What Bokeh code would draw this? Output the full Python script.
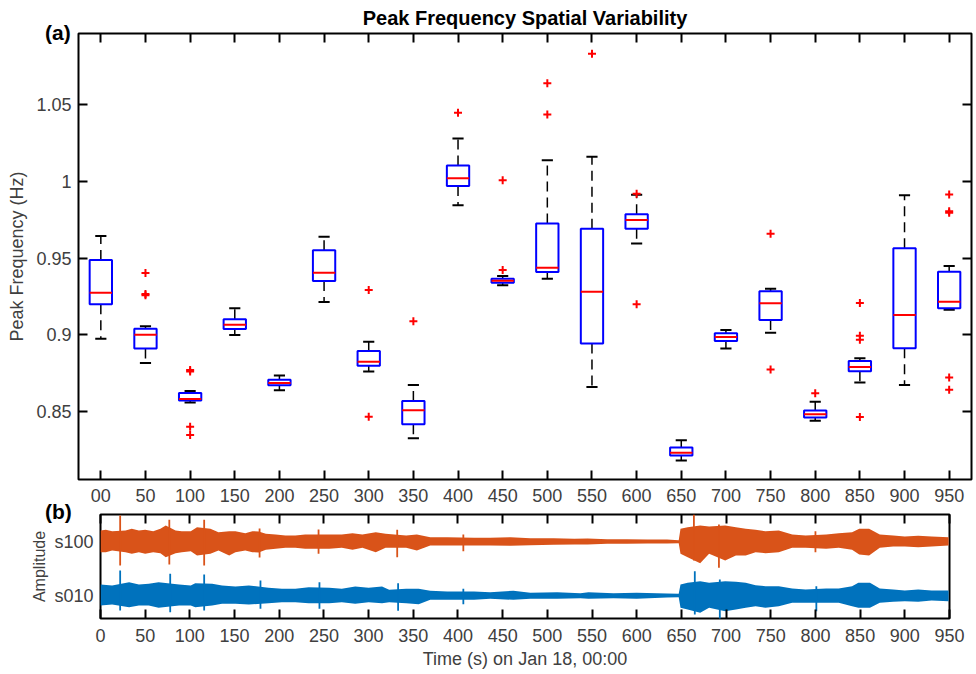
from bokeh.plotting import figure
from bokeh.models import (FactorRange, Range1d, FixedTicker, CategoricalAxis, LinearAxis,
                          ColumnDataSource, CustomJSTickFormatter, Div)
from bokeh.transform import dodge
from bokeh.layouts import column
from bokeh.embed import file_html
from bokeh.resources import INLINE

# ---------------- data: panel (a) box plots ----------------
cats = ["00", "50", "100", "150", "200", "250", "300", "350", "400", "450",
        "500", "550", "600", "650", "700", "750", "800", "850", "900", "950"]
whisk_lo = [0.8976, 0.8818, 0.8560, 0.9000, 0.8641, 0.9214, 0.8762, 0.8329, 0.9844, 0.9323,
            0.9366, 0.8662, 0.9595, 0.8184, 0.8911, 0.9015, 0.8442, 0.8690, 0.8675, 0.9164]
q1 = [0.9200, 0.8911, 0.8573, 0.9039, 0.8673, 0.9350, 0.8799, 0.8420, 0.9968, 0.9340,
      0.9409, 0.8944, 0.9690, 0.8216, 0.8961, 0.9097, 0.8463, 0.8764, 0.8914, 0.9173]
med = [0.9275, 0.9002, 0.8584, 0.9067, 0.8688, 0.9405, 0.8825, 0.8511, 1.0019, 0.9353,
       0.9437, 0.9281, 0.9747, 0.8234, 0.8987, 0.9206, 0.8485, 0.8792, 0.9130, 0.9216]
q3 = [0.9487, 0.9041, 0.8623, 0.9102, 0.8708, 0.9550, 0.8896, 0.8571, 1.0102, 0.9366,
      0.9725, 0.9690, 0.9784, 0.8268, 0.9011, 0.9284, 0.8509, 0.8831, 0.9563, 0.9411]
whisk_hi = [0.9643, 0.9056, 0.8636, 0.9173, 0.8736, 0.9638, 0.8955, 0.8675, 1.0277, 0.9383,
            1.0136, 1.0158, 0.9912, 0.8316, 0.9032, 0.9301, 0.8565, 0.8849, 0.9909, 0.9448]
out_cat = ["50", "50", "50", "100", "100", "100", "100", "300", "300", "350", "400",
           "450", "450", "500", "500", "550", "600", "600", "750", "750", "800",
           "850", "850", "850", "850", "950", "950", "950", "950", "950"]
out_val = [0.9403, 0.9266, 0.9258, 0.8772, 0.8762, 0.8403, 0.8349, 0.9292, 0.8468, 0.9089, 1.0444,
           1.0005, 0.9422, 1.0636, 1.0433, 1.0829, 0.9918, 0.9200, 0.9658, 0.8775, 0.8621,
           0.9208, 0.8995, 0.8968, 0.8466, 0.9913, 0.9805, 0.9795, 0.8723, 0.8643]
freq_ticks = [0.85, 0.9, 0.95, 1.0, 1.05]
freq_tick_labels = ["0.85", "0.9", "0.95", "1", "1.05"]

# ---------------- data: panel (b) waveform envelopes ----------------
trace_names = ["s100", "s010"]
trace_offsets = [54, 0]
time_ticks = list(range(0, 951, 50))

t_s100 = [0, 6, 13, 28, 35, 43, 50, 59, 67, 73, 84, 91, 101, 108, 123, 132, 144, 151, 162, 170,
          177, 185, 196, 207, 218, 229, 256, 270, 282, 293, 308, 319, 342, 354, 369, 388, 418, 436, 459, 481,
          507, 530, 545, 567, 589, 612, 634, 647, 649, 657, 671, 681, 699, 711, 722, 733, 744, 759, 774, 789,
          812, 826, 841, 849, 860, 872, 887, 900, 915, 930, 949]
top_s100 = [11, 11.7, 10.3, 11, 12.7, 11, 11.7, 10.3, 12.7, 16, 11, 10.3, 10.3, 14.3, 12.7, 9.3, 10.3, 10.3, 8.3, 10.3,
            10, 7.7, 7, 6, 6, 7, 7, 7, 8.3, 7, 9.3, 7.7, 6, 7, 4.3, 4.3, 3.7, 3.7, 4.3, 3.3,
            3.3, 2.7, 3, 2.3, 2.3, 2, 2, 1.3, 12.7, 14.3, 16, 15, 16, 14.3, 12.7, 11.7, 10.3, 11, 7, 6,
            7, 8.3, 9.3, 12.7, 12.7, 7, 6, 5, 5.7, 5, 4.3]
bot_s100 = [10.7, 10.7, 9, 10.7, 12.3, 10.7, 12.3, 10.7, 11.7, 15.7, 11.7, 10.7, 9.7, 14, 12.3, 9, 14, 10.7, 9, 10.7,
            11, 8.3, 7.3, 6.3, 6.3, 7.3, 7.3, 6.3, 8.3, 6.3, 10.7, 6.3, 6.3, 9, 4, 4, 4, 4, 4.3, 3.7,
            3.3, 3, 3, 2.3, 2.3, 2, 2, 1.7, 12.3, 15.7, 21.7, 12.3, 19, 14, 14, 10.7, 11.7, 10.7, 6.3, 6.3,
            7.3, 6.3, 8.3, 13, 14, 6.3, 5, 5, 5.7, 5, 4]
spike_t_s100 = [22, 77, 116, 178, 244, 332, 406, 664, 692, 800]
spike_top_s100 = [26, 21.7, 21.7, 13, 12, 11.7, 7, 27, 17, 10.3]
spike_bot_s100 = [24, 23, 24, 16, 12.3, 15.7, 9.7, 19, 26.3, 10.7]

t_s010 = [0, 13, 32, 43, 54, 65, 88, 101, 106, 125, 136, 151, 166, 188, 203, 218, 233, 256, 270, 285,
          300, 315, 323, 342, 356, 369, 388, 418, 436, 462, 481, 511, 537, 546, 574, 600, 634, 647, 649, 657,
          671, 681, 699, 711, 722, 733, 744, 759, 774, 789, 812, 826, 841, 848, 861, 872, 887, 900, 915, 930, 949]
top_s010 = [11, 10, 13.3, 11, 11.7, 13.3, 11, 10, 12.3, 11.7, 10, 9, 10, 7.7, 6.7, 6.7, 8.3, 7.7, 6.7, 9,
            7.7, 9, 5.7, 6.7, 6.7, 4.7, 4, 4, 3.3, 4.7, 2.7, 3.3, 2.3, 3.3, 2.3, 2.7, 2, 1.7, 11, 12.7,
            14.3, 12.7, 14.3, 13.7, 12.7, 10.3, 9.3, 9.3, 7, 6, 7, 7, 9.3, 12.7, 12.7, 7, 6, 5, 6, 5, 5]
bot_s010 = [10, 9, 11.7, 10, 10, 12.3, 10, 10, 11.7, 10, 8.3, 8.3, 9, 7.7, 6.7, 6.7, 7.7, 7.7, 6.7, 8.3,
            6.7, 7.7, 6.7, 7.7, 8.7, 4.3, 4.3, 4.3, 3.3, 4.3, 3.3, 3.3, 2.7, 3.3, 2.7, 3.3, 2, 1.7, 12.3, 14,
            17.3, 12.3, 15.7, 14, 12.3, 10.7, 12.3, 10.7, 7.3, 7.3, 7.3, 7.3, 10.7, 12.3, 12.3, 7.3, 6.3, 5.7, 6.3, 5, 5.7]
spike_t_s010 = [22, 78, 116, 179, 245, 333, 406, 665, 693, 801]
spike_top_s010 = [25, 21.7, 21, 15, 13.3, 12.3, 6.7, 24.3, 16, 9.3]
spike_bot_s010 = [15, 16.7, 15, 13.3, 13.3, 15.3, 8.7, 19, 24, 15.7]

FONT = "Liberation Sans"
GREY = "#404040"

blank_fmt = CustomJSTickFormatter(code="return '';")


def style_axis(ax, labels=True):
    ax.axis_line_color = None
    ax.major_tick_in = 9
    ax.major_tick_out = 0
    ax.major_tick_line_color = "black"
    ax.major_tick_line_width = 2
    ax.minor_tick_line_color = None
    if labels:
        ax.major_label_text_font = FONT
        ax.major_label_text_font_size = "18px"
        ax.major_label_text_color = GREY
    else:
        ax.formatter = blank_fmt
        ax.major_label_text_font_size = "1px"
        ax.major_label_standoff = 0


# ---------------- panel (a) ----------------
pa = figure(width=976, height=509, x_range=FactorRange(*cats, range_padding=0, factor_padding=0),
            y_range=Range1d(0.806, 1.096), output_backend="svg", toolbar_location=None,
            min_border_left=78, min_border_right=5, min_border_top=32, min_border_bottom=30,
            x_axis_location=None, y_axis_location=None, frame_align=False,
            title="Peak Frequency Spatial Variability")
pa.title.align = "center"
pa.title.text_font = FONT
pa.title.text_font_size = "20px"
pa.title.text_font_style = "bold"
pa.title.text_color = "black"
pa.title.standoff = 9
pa.grid.visible = False
pa.outline_line_color = "black"
pa.outline_line_width = 2

fmt_a = CustomJSTickFormatter(args=dict(tv=freq_ticks, tl=freq_tick_labels), code="""
    for (let i = 0; i < tv.length; i++) { if (Math.abs(tv[i] - tick) < 1e-9) return tl[i]; }
    return '';
""")

ax_b = CategoricalAxis(major_label_standoff=9)
style_axis(ax_b)
pa.add_layout(ax_b, "below")
ax_t = CategoricalAxis()
style_axis(ax_t, labels=False)
pa.add_layout(ax_t, "above")
ax_l = LinearAxis(ticker=FixedTicker(ticks=freq_ticks), formatter=fmt_a, major_label_standoff=7,
                  axis_label="Peak Frequency (Hz)", axis_label_standoff=6,
                  axis_label_text_font=FONT, axis_label_text_font_size="18px",
                  axis_label_text_font_style="normal", axis_label_text_color=GREY)
style_axis(ax_l)
pa.add_layout(ax_l, "left")
ax_r = LinearAxis(ticker=FixedTicker(ticks=freq_ticks))
style_axis(ax_r, labels=False)
pa.add_layout(ax_r, "right")

src = ColumnDataSource(dict(cat=cats, lo=whisk_lo, q1=q1, med=med, q3=q3, hi=whisk_hi))
pa.segment(x0="cat", y0="q3", x1="cat", y1="hi", source=src, line_color="black",
           line_width=1.5, line_dash="10 6")
pa.segment(x0="cat", y0="q1", x1="cat", y1="lo", source=src, line_color="black",
           line_width=1.5, line_dash="10 6")
for col in ("hi", "lo"):
    pa.segment(x0=dodge("cat", -0.125, range=pa.x_range), y0=col,
               x1=dodge("cat", 0.125, range=pa.x_range), y1=col,
               source=src, line_color="black", line_width=2)
pa.vbar(x="cat", width=0.5, bottom="q1", top="q3", source=src, fill_color=None,
        line_color="#0000FF", line_width=2)
pa.segment(x0=dodge("cat", -0.25, range=pa.x_range), y0="med",
           x1=dodge("cat", 0.25, range=pa.x_range), y1="med",
           source=src, line_color="#FF0000", line_width=2)
pa.scatter(x=out_cat, y=out_val, marker="cross", size=8, line_color="#FF0000", line_width=2)

# ---------------- panel (b) ----------------
pb = figure(width=976, height=165, x_range=Range1d(0, 950), y_range=Range1d(-23, 81),
            output_backend="svg", toolbar_location=None,
            min_border_left=100, min_border_right=27, min_border_top=5, min_border_bottom=56,
            x_axis_location=None, y_axis_location=None, frame_align=False)
pb.grid.visible = False
pb.outline_line_color = "black"
pb.outline_line_width = 2

bx = LinearAxis(ticker=FixedTicker(ticks=time_ticks), major_label_standoff=10,
                axis_label="Time (s) on Jan 18, 00:00", axis_label_standoff=4,
                axis_label_text_font=FONT, axis_label_text_font_size="18px",
                axis_label_text_font_style="normal", axis_label_text_color=GREY)
style_axis(bx)
pb.add_layout(bx, "below")
tx = LinearAxis(ticker=FixedTicker(ticks=time_ticks))
style_axis(tx, labels=False)
pb.add_layout(tx, "above")
ly = LinearAxis(ticker=FixedTicker(ticks=trace_offsets),
                major_label_overrides={o: n for o, n in zip(trace_offsets, trace_names)},
                major_label_standoff=7, axis_label="Amplitude", axis_label_standoff=3,
                axis_label_text_font=FONT, axis_label_text_font_size="16px",
                axis_label_text_font_style="normal", axis_label_text_color=GREY)
style_axis(ly)
ly.major_tick_in = 0
pb.add_layout(ly, "left")

traces = [
    (t_s100, top_s100, bot_s100, spike_t_s100, spike_top_s100, spike_bot_s100, trace_offsets[0], "#D95319"),
    (t_s010, top_s010, bot_s010, spike_t_s010, spike_top_s010, spike_bot_s010, trace_offsets[1], "#0072BD"),
]
for t, top, bot, st, stop, sbot, off, color in traces:
    pb.varea(x=t, y1=[off - b for b in bot], y2=[off + a for a in top], fill_color=color)
    pb.segment(x0=st, x1=st, y0=[off - b for b in sbot], y1=[off + a for a in stop],
               line_color=color, line_width=1.8)


def panel_tag(text, left, top):
    return Div(text=text, styles={"position": "absolute", "left": f"{left}px", "top": f"{top}px",
                                  "font-family": FONT, "font-size": "21px", "font-weight": "bold",
                                  "color": "black", "line-height": "1", "margin": "0",
                                  "padding": "0", "z-index": "10"})


div_a = panel_tag("(a)", 45, 22)
div_b = panel_tag("(b)", 45, 501)

layout = column(pa, pb, div_a, div_b, spacing=0)
open("out.html", "w").write(file_html(layout, INLINE))
